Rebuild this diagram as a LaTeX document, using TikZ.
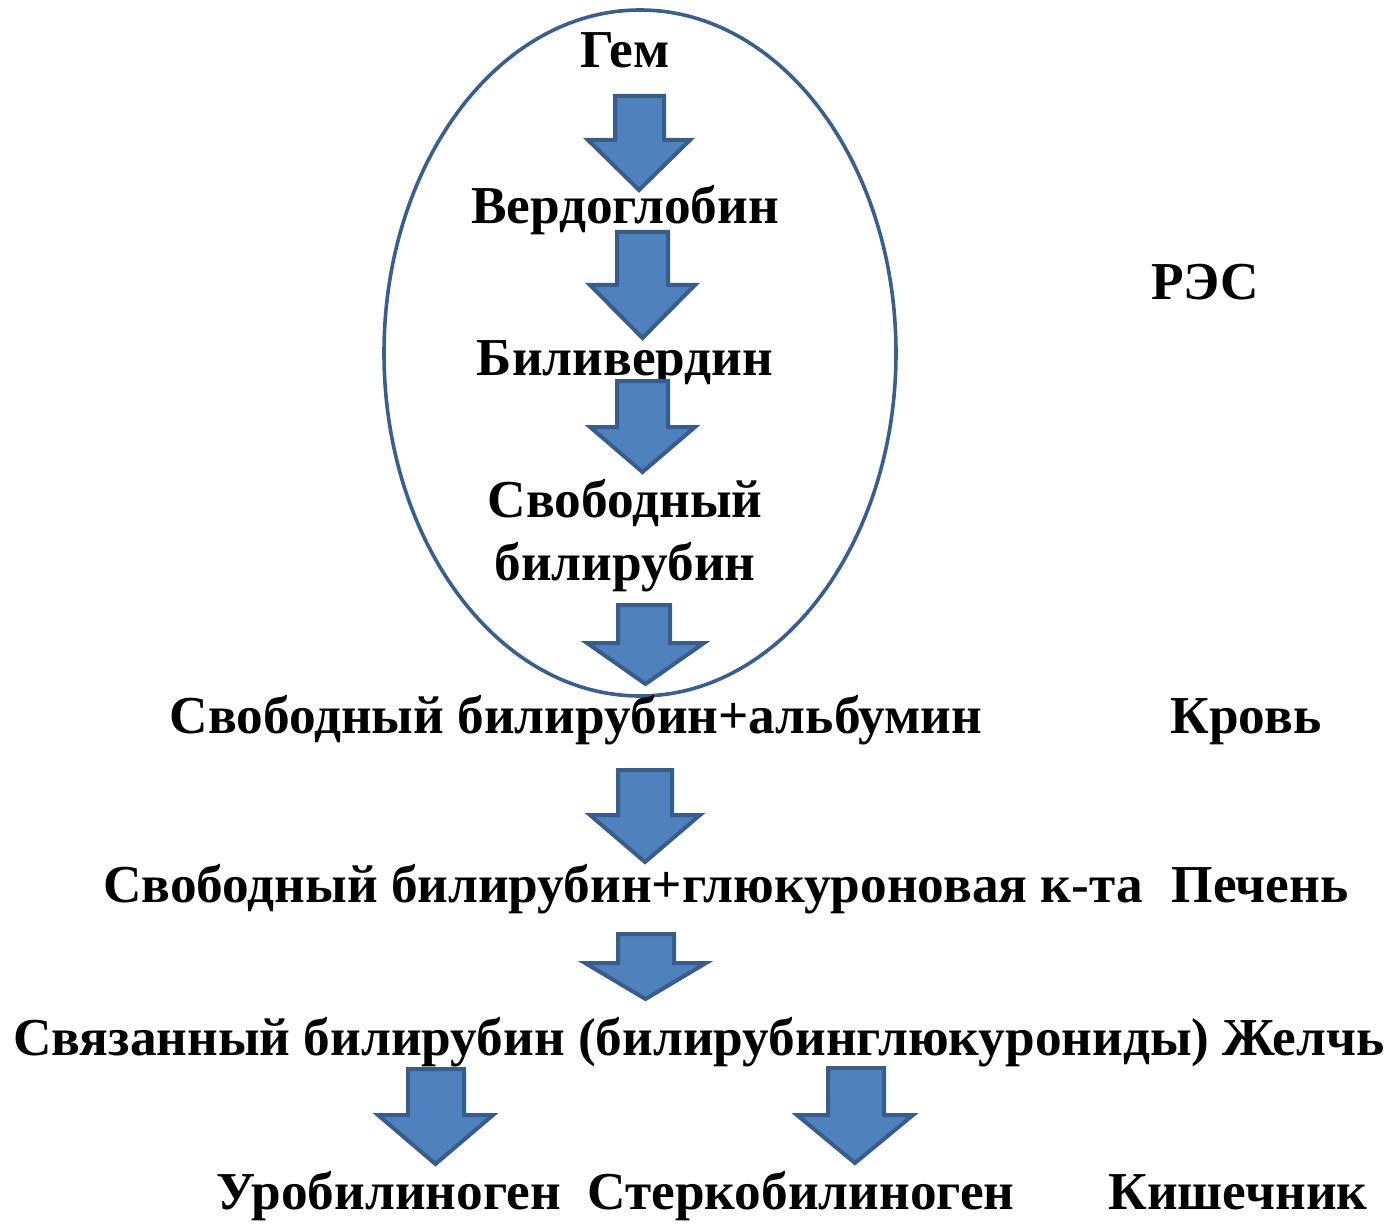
\documentclass[tikz,border=0pt]{standalone}
\usepackage{fontspec}
\setmainfont{Liberation Serif}
\definecolor{arrfill}{HTML}{4F81BD}
\definecolor{arrline}{HTML}{385D8A}
\definecolor{ellline}{HTML}{3A5F8E}
\newcommand{\blockarr}[7]{%
  \draw[blockarrow] (#1,#3) -- (#2,#3) -- (#2,#4) -- (#6,#4) -- ({(#5+#6)/2},#7) -- (#5,#4) -- (#1,#4) -- cycle;}
\begin{document}
\begin{tikzpicture}[x=1pt,y=-1pt,
  lbl/.style={font=\fontsize{53.3}{63}\selectfont\bfseries, inner sep=0pt, anchor=base, align=center},
  blockarrow/.style={fill=arrfill, draw=arrline, line width=4pt, line join=miter},
  rescircle/.style={draw=ellline, line width=3.6pt}]
\useasboundingbox (0,0) rectangle (1393,1225);
\draw[rescircle] (640,353) ellipse [x radius=256, y radius=343];
% texts
\node[lbl] (gem) at (625,68) {Гем};
\node[lbl] (verd) at (625,224) {Вердоглобин};
\node[lbl] (res) at (1205,300) {РЭС};
\node[lbl] (biliv) at (625,375) {Биливердин};
\node[lbl] (svob1) at (625,517) {Свободный};
\node[lbl] (svob2) at (625,580) {билирубин};
\node[lbl] (alb) at (576,733) {Свободный билирубин+альбумин};
\node[lbl] (krov) at (1246,733) {Кровь};
\node[lbl] (gluk) at (623,902) {Свободный билирубин+глюкуроновая к-та};
\node[lbl] (pech) at (1260,902) {Печень};
\node[lbl] (sv) at (699,1055) {Связанный билирубин (билирубинглюкурониды) Желчь};
\node[lbl] (uro) at (389,1209) {Уробилиноген};
\node[lbl] (ster) at (801,1209) {Стеркобилиноген};
\node[lbl] (kish) at (1238,1209) {Кишечник};
% block arrows: shaft L, shaft R, top, head y, wing L, wing R, tip
\blockarr{615}{664}{96}{140}{588}{690}{190}
\blockarr{617}{668}{232}{285}{590}{695}{338}
\blockarr{617}{668}{381}{427}{590}{695}{472}
\blockarr{618}{670}{605}{643}{587}{704}{684}
\blockarr{618}{672}{770}{815}{590}{700}{862}
\blockarr{618}{674}{934}{963}{585}{706}{999}
\blockarr{408}{464}{1069}{1115}{378}{493}{1164}
\blockarr{828}{884}{1068}{1115}{797}{913}{1163}
\end{tikzpicture}
\end{document}
